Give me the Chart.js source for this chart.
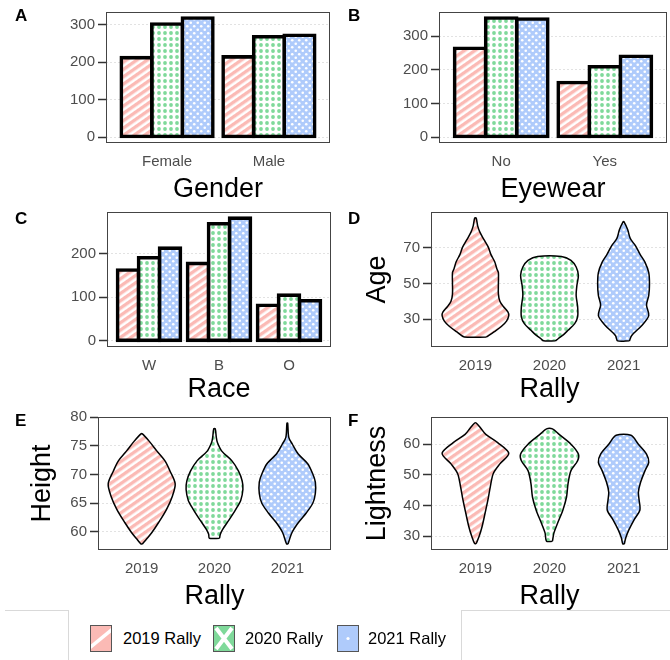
<!DOCTYPE html>
<html lang="en">
<head>
<meta charset="UTF-8">
<title>Rally panels</title>
<script src="https://cdn.jsdelivr.net/npm/chart.js"></script>
<style>
  body { margin: 0; width: 670px; height: 660px; background: #fff; position: relative; overflow: hidden;
         font-family: "Liberation Sans", Arial, sans-serif; }
  canvas.panel { position: absolute; }
  .tag { position: absolute; font-weight: bold; font-size: 17px; line-height: 17px; }
  .frame { position: absolute; background: #d9d9d9; }
  .key { position: absolute; top: 625px; }
  .keytext { position: absolute; top: 628px; font-size: 16.5px; line-height: 20px; color: #000; }
</style>
</head>
<body>
<canvas class="panel" id="pA" width="335" height="203" style="left:0;top:0"></canvas>
<canvas class="panel" id="pB" width="335" height="203" style="left:335px;top:0"></canvas>
<canvas class="panel" id="pC" width="335" height="203" style="left:0;top:200px"></canvas>
<canvas class="panel" id="pD" width="335" height="203" style="left:335px;top:200px"></canvas>
<canvas class="panel" id="pE" width="335" height="205" style="left:0;top:405px"></canvas>
<canvas class="panel" id="pF" width="335" height="205" style="left:335px;top:405px"></canvas>

<div class="tag" style="left:15px;top:7px">A</div>
<div class="tag" style="left:348px;top:7px">B</div>
<div class="tag" style="left:15px;top:210px">C</div>
<div class="tag" style="left:348px;top:210px">D</div>
<div class="tag" style="left:15px;top:412px">E</div>
<div class="tag" style="left:348px;top:412px">F</div>

<div class="frame" style="left:5px;top:610px;width:63px;height:1px"></div>
<div class="frame" style="left:461px;top:610px;width:209px;height:1px"></div>
<div class="frame" style="left:68px;top:610px;width:1px;height:50px"></div>
<div class="frame" style="left:461px;top:610px;width:1px;height:50px"></div>
<canvas class="key" id="k0" width="22" height="27" style="left:90px"></canvas>
<canvas class="key" id="k1" width="22" height="27" style="left:213px"></canvas>
<canvas class="key" id="k2" width="22" height="27" style="left:337px"></canvas>
<div class="keytext" id="t0" style="left:123px"></div>
<div class="keytext" id="t1" style="left:245px"></div>
<div class="keytext" id="t2" style="left:368px"></div>

<script>
// series names
const rallies = ['2019 Rally', '2020 Rally', '2021 Rally'];
const years = ['2019', '2020', '2021'];

// A: gender counts
const genderCats = ['Female', 'Male'];
const gender2019 = [212, 214];
const gender2020 = [302, 268];
const gender2021 = [318, 272];
const genderTicks = [0, 100, 200, 300];

// B: eyewear counts
const eyewearCats = ['No', 'Yes'];
const eyewear2019 = [264, 162];
const eyewear2020 = [354, 209];
const eyewear2021 = [351, 240];
const eyewearTicks = [0, 100, 200, 300];

// C: race counts
const raceCats = ['W', 'B', 'O'];
const race2019 = [163, 178, 82];
const race2020 = [191, 269, 105];
const race2021 = [213, 282, 92];
const raceTicks = [0, 100, 200];

// D-F: violin outlines, y levels (bottom to top) and half widths in category units
const ageTicks = [30, 50, 70];
const ageY2019 = [20.2, 23, 26, 29, 32, 34, 37, 40, 44, 50, 56, 58, 62, 66, 70, 74, 78.5, 82, 86.3];
const ageW2019 = [0.15, 0.25, 0.35, 0.42, 0.45, 0.44, 0.38, 0.33, 0.31, 0.31, 0.31, 0.29, 0.26, 0.21, 0.175, 0.12, 0.06, 0.03, 0.01];
const ageY2020 = [18, 19.3, 21.5, 23.9, 27.6, 31.3, 36.9, 43.3, 48.9, 54.5, 59.1, 62.8, 65];
const ageW2020 = [0.08, 0.12, 0.19, 0.25, 0.34, 0.38, 0.38, 0.36, 0.37, 0.39, 0.36, 0.29, 0.16];
const ageY2021 = [18, 21, 26.7, 32, 38, 43.3, 49.6, 56, 61.7, 66, 71, 75, 80, 84.4];
const ageW2021 = [0.08, 0.11, 0.25, 0.34, 0.31, 0.34, 0.35, 0.34, 0.29, 0.225, 0.16, 0.09, 0.055, 0.005];

const heightTicks = [60, 65, 70, 75, 80];
const heightY2019 = [57.9, 58.8, 59.9, 61.6, 63.9, 66.2, 68.4, 70.6, 72.4, 74.1, 75.8, 77.1];
const heightW2019 = [0.01, 0.07, 0.14, 0.23, 0.34, 0.42, 0.46, 0.39, 0.32, 0.21, 0.105, 0.01];
const heightY2020 = [58.9, 59.6, 60.4, 62.1, 63.9, 65.5, 67.4, 68.9, 70.6, 72.4, 74.1, 75.6, 76.5, 78];
const heightW2020 = [0.07, 0.08, 0.11, 0.2, 0.29, 0.36, 0.39, 0.38, 0.33, 0.24, 0.1, 0.04, 0.025, 0.01];
const heightY2021 = [57.9, 59.9, 61.6, 63.3, 65.0, 66.7, 68.7, 70.1, 71.9, 73.6, 75.3, 76.5, 79];
const heightW2021 = [0.01, 0.065, 0.15, 0.26, 0.35, 0.385, 0.385, 0.35, 0.28, 0.15, 0.07, 0.02, 0.005];

const lightTicks = [30, 40, 50, 60];
const lightY2019 = [27.6, 30, 33.2, 37.5, 42, 46, 50.4, 53.6, 57, 60.5, 63.2, 65.3, 66.9];
const lightW2019 = [0.01, 0.05, 0.09, 0.13, 0.17, 0.2, 0.24, 0.33, 0.45, 0.30, 0.14, 0.07, 0.01];
const lightY2020 = [28.4, 31.1, 34.3, 38.5, 42.8, 47.1, 51.4, 54.6, 56.8, 60, 63.2, 65];
const lightW2020 = [0.04, 0.06, 0.11, 0.18, 0.23, 0.25, 0.29, 0.38, 0.39, 0.29, 0.13, 0.04];
const lightY2021 = [27.5, 29.5, 32, 35.3, 38.5, 41.8, 44.4, 47.6, 51.4, 54.1, 56.8, 60, 62.9];
const lightW2021 = [0.01, 0.03, 0.07, 0.14, 0.22, 0.21, 0.2, 0.23, 0.29, 0.34, 0.31, 0.2, 0.1];

const pink = '#fbbab5', green = '#7fd99a', blue = '#afcbfb';
const FONT = '"Liberation Sans", Arial, sans-serif';
Chart.defaults.font.family = FONT;

// fill patterns (stripes / crosshatch dots / circles)
const scratch = document.createElement('canvas').getContext('2d');
function makeTile(w, h, draw) {
    const t = document.createElement('canvas');
    t.width = w; t.height = h;
    draw(t.getContext('2d'));
    return t;
}
const stripeFill = scratch.createPattern(makeTile(6, 6, c => {
    c.fillStyle = pink; c.fillRect(0, 0, 6, 6);
    c.fillStyle = '#fff'; c.fillRect(0, 3.4, 6, 2.6);
}), 'repeat');
stripeFill.setTransform(new DOMMatrix().rotateSelf(-35));
const crossFill = scratch.createPattern(makeTile(6, 6, c => {
    c.fillStyle = '#fff'; c.fillRect(0, 0, 6, 6);
    c.fillStyle = green; c.beginPath(); c.arc(3, 3, 1.9, 0, Math.PI * 2); c.fill();
}), 'repeat');
const circleFill = scratch.createPattern(makeTile(7, 7, c => {
    c.fillStyle = blue; c.fillRect(0, 0, 7, 7);
    c.fillStyle = '#fff';
    c.beginPath(); c.arc(1.75, 1.75, 1.3, 0, Math.PI * 2); c.fill();
    c.beginPath(); c.arc(5.25, 5.25, 1.3, 0, Math.PI * 2); c.fill();
}), 'repeat');
const fills = [stripeFill, crossFill, circleFill];

// draws the dark panel box
const panelBorder = {
    id: 'panelBorder',
    afterDatasetsDraw(chart) {
        const {ctx, chartArea: a} = chart;
        ctx.save();
        ctx.strokeStyle = '#444';
        ctx.lineWidth = 1;
        ctx.strokeRect(Math.round(a.left) + 0.5, Math.round(a.top) + 0.5,
            Math.round(a.right - a.left) - 1, Math.round(a.bottom - a.top) - 1);
        ctx.restore();
    }
};

function expand(lo, hi) {
    const pad = (hi - lo) * 0.05;
    return [lo - pad, hi + pad];
}

function xAxis(labels, title, height) {
    return {
        type: 'linear', min: 0.4, max: labels.length + 0.6, offset: false,
        afterBuildTicks: ax => { ax.ticks = labels.map((l, i) => ({value: i + 1})); },
        afterFit: ax => { ax.height = height; },
        grid: {display: false, drawTicks: false, offset: false},
        border: {display: false},
        ticks: {callback: v => labels[Math.round(v) - 1], color: '#4d4d4d', font: {size: 15},
                padding: 10, maxRotation: 0, autoSkip: false},
        title: {display: true, text: title, color: '#000', font: {size: 27, lineHeight: 1}, padding: 0}
    };
}

function yAxis(tickVals, range, width, title) {
    return {
        type: 'linear', min: range[0], max: range[1],
        afterBuildTicks: ax => { ax.ticks = tickVals.map(v => ({value: v})); },
        afterFit: ax => { ax.width = width; },
        grid: {color: '#e2e2e2', lineWidth: 1, tickColor: '#333', tickLength: 8, tickWidth: 1.5, tickBorderDash: []},
        border: {display: false, dash: [2, 2]},
        ticks: {color: '#4d4d4d', font: {size: 15}, padding: 3},
        title: title ? {display: true, text: title, color: '#000', font: {size: 27, lineHeight: 1},
                        padding: {top: 29.5, bottom: 0}} : {display: false}
    };
}

function baseOptions(pad) {
    return {
        responsive: false, animation: false,
        layout: {padding: {top: pad.top, right: pad.right, left: 0, bottom: 0}},
        plugins: {legend: {display: false}, tooltip: {enabled: false}}
    };
}

function barPanel(id, cats, series, ticks, title, box) {
    const all = series.flat();
    const opts = baseOptions(box);
    opts.scales = {
        x: xAxis(cats, title, box.xh),
        y: yAxis(ticks, expand(0, Math.max(...all)), box.yw)
    };
    new Chart(document.getElementById(id), {
        type: 'bar',
        data: {
            datasets: series.map((vals, s) => ({
                label: rallies[s],
                data: vals.map((v, i) => ({x: i + 1, y: v})),
                backgroundColor: fills[s],
                borderColor: '#000',
                borderWidth: 3.6,
                inflateAmount: 1.8,
                borderSkipped: false,
                categoryPercentage: 0.9,
                barPercentage: 1
            }))
        },
        options: opts,
        plugins: [panelBorder]
    });
}

function violinPoints(center, ys, ws) {
    const right = ys.map((y, i) => ({x: center + ws[i], y}));
    const left = ys.map((y, i) => ({x: center - ws[i], y})).reverse();
    return [...right, ...left, right[0]];
}

function violinPanel(id, shapes, ticks, ytitle, box) {
    const ys = shapes.map(s => s[0]).flat();
    const opts = baseOptions(box);
    opts.scales = {
        x: xAxis(years, 'Rally', box.xh),
        y: yAxis(ticks, expand(Math.min(...ys), Math.max(...ys)), box.yw, ytitle)
    };
    new Chart(document.getElementById(id), {
        type: 'line',
        data: {
            datasets: shapes.map((s, i) => ({
                label: rallies[i],
                data: violinPoints(i + 1, s[0], s[1]),
                backgroundColor: fills[i],
                borderColor: '#000',
                borderWidth: 1.5,
                fill: 'shape',
                tension: 0.3,
                pointRadius: 0
            }))
        },
        options: opts,
        plugins: [panelBorder]
    });
}

barPanel('pA', genderCats, [gender2019, gender2020, gender2021], genderTicks, 'Gender',
    {top: 8, right: 5, yw: 106, xh: 60});
barPanel('pB', eyewearCats, [eyewear2019, eyewear2020, eyewear2021], eyewearTicks, 'Eyewear',
    {top: 8, right: 3, yw: 104, xh: 60});
barPanel('pC', raceCats, [race2019, race2020, race2021], raceTicks, 'Race',
    {top: 12, right: 4, yw: 107, xh: 56});
violinPanel('pD', [[ageY2019, ageW2019], [ageY2020, ageW2020], [ageY2021, ageW2021]], ageTicks, 'Age',
    {top: 12, right: 2, yw: 96, xh: 56});
violinPanel('pE', [[heightY2019, heightW2019], [heightY2020, heightW2020], [heightY2021, heightW2021]],
    heightTicks, 'Height', {top: 11, right: 4, yw: 98, xh: 60});
violinPanel('pF', [[lightY2019, lightW2019], [lightY2020, lightW2020], [lightY2021, lightW2021]],
    lightTicks, 'Lightness', {top: 11, right: 2, yw: 96, xh: 60});

// legend keys
const keyDraw = [
    c => {
        c.fillStyle = pink; c.fillRect(0, 0, 22, 27);
        c.strokeStyle = '#fff'; c.lineWidth = 3.5;
        c.beginPath(); c.moveTo(-2, 24); c.lineTo(24, 3); c.stroke();
    },
    c => {
        c.fillStyle = green; c.fillRect(0, 0, 22, 27);
        c.strokeStyle = '#fff'; c.lineWidth = 4;
        c.beginPath(); c.moveTo(3, 3); c.lineTo(19, 24); c.moveTo(19, 3); c.lineTo(3, 24); c.stroke();
    },
    c => {
        c.fillStyle = blue; c.fillRect(0, 0, 22, 27);
        c.fillStyle = '#fff'; c.beginPath(); c.arc(11, 13.5, 1.6, 0, Math.PI * 2); c.fill();
    }
];
rallies.forEach((name, i) => {
    const c = document.getElementById('k' + i).getContext('2d');
    keyDraw[i](c);
    c.strokeStyle = '#555'; c.lineWidth = 1; c.strokeRect(0.5, 0.5, 21, 26);
    document.getElementById('t' + i).textContent = name;
});
</script>
</body>
</html>
